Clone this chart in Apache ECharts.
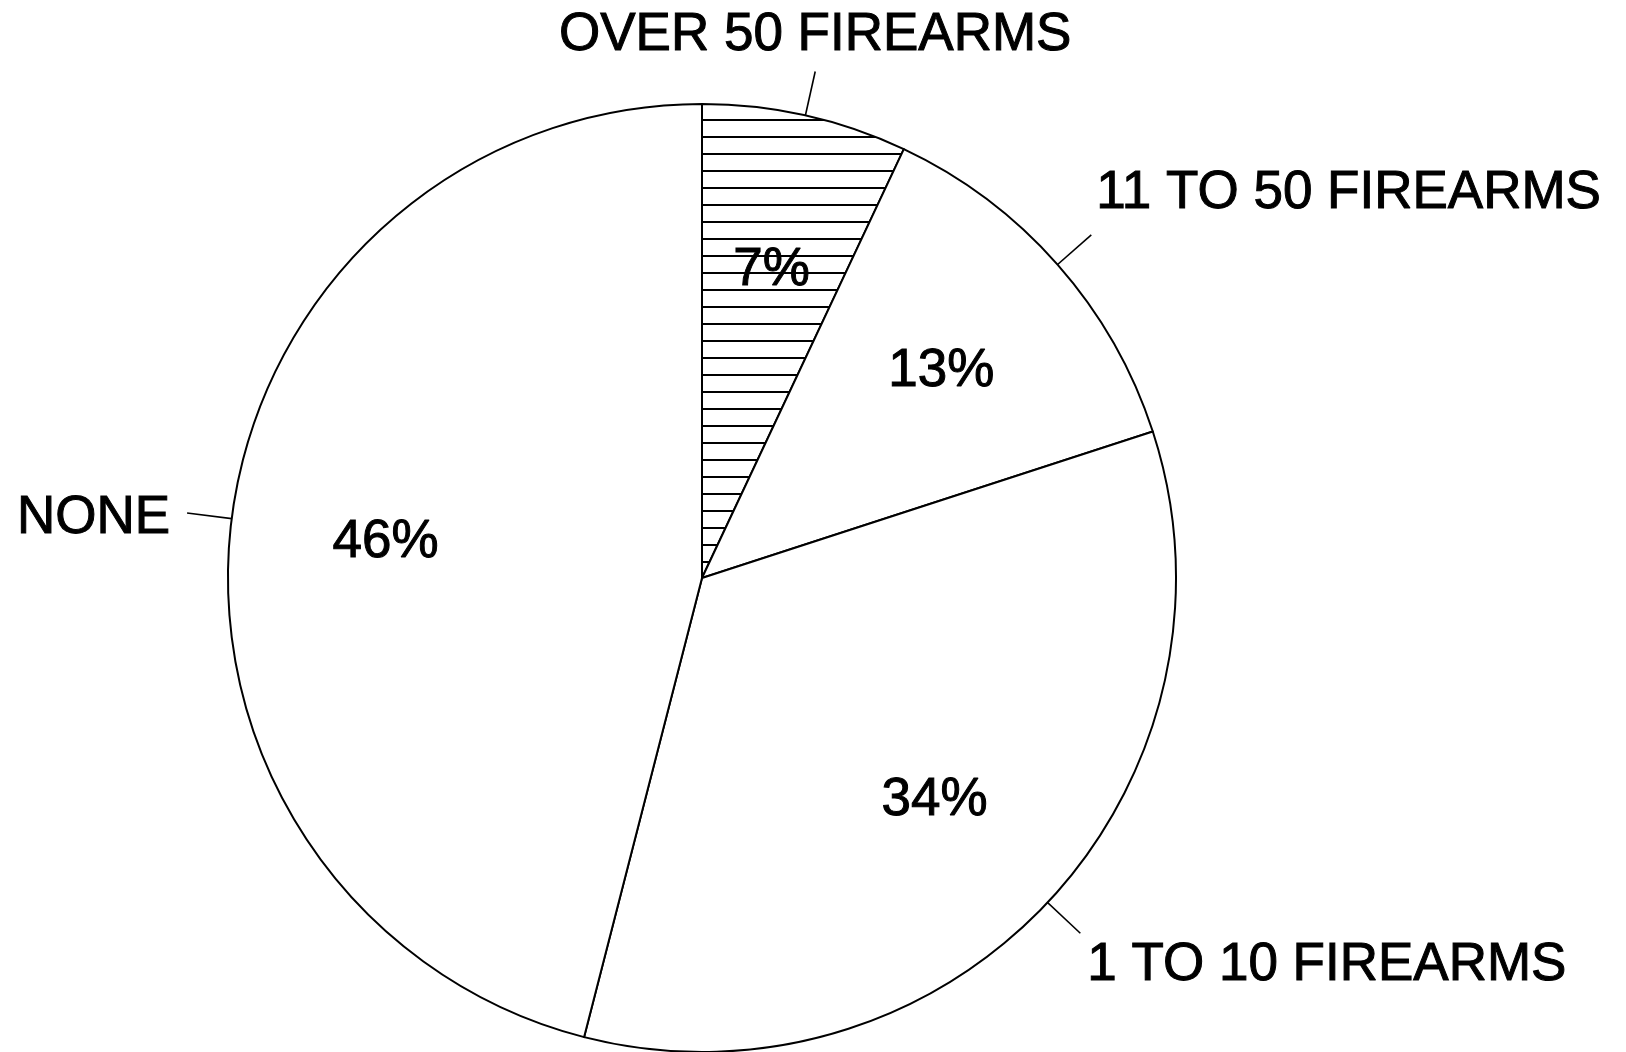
<!DOCTYPE html>
<html><head><meta charset="utf-8">
<script src="https://cdn.jsdelivr.net/npm/echarts@6/dist/echarts.min.js"></script>
<style>html,body{margin:0;padding:0;background:#fff}#c{width:1626px;height:1052px}</style>
</head><body><div id="c"></div>
<script>
const categories = ['OVER 50 FIREARMS', '11 TO 50 FIREARMS', '1 TO 10 FIREARMS', 'NONE'];
const shares = [7, 13, 34, 46];
const percentLabels = ['7%', '13%', '34%', '46%'];

const hatch = document.createElement('canvas');
hatch.width = 8; hatch.height = 17;
const hc = hatch.getContext('2d');
hc.fillStyle = '#fff'; hc.fillRect(0, 0, 8, 17);
hc.fillStyle = '#000'; hc.fillRect(0, 0, 8, 2);

const FONT = '"Liberation Sans", Arial, Helvetica, sans-serif';
const C = [702, 578], R = 474;

const placements = [
  {dx: 0, dy: -10, align: 'center', va: 'bottom'},
  {dx: 5, dy: -15, align: 'left', va: 'bottom'},
  {dx: 7, dy: 6, align: 'left', va: 'top'},
  {dx: -17, dy: 5, align: 'right', va: 'middle'}
];

const fills = [{image: hatch, repeat: 'repeat'}, '#fff', '#fff', '#fff'];

const chart = echarts.init(document.getElementById('c'), null, {renderer: 'canvas'});
chart.setOption({
  backgroundColor: '#fff',
  animation: false,
  series: [
    {
      type: 'pie',
      center: C,
      radius: [0, R],
      startAngle: 90,
      clockwise: true,
      silent: true,
      avoidLabelOverlap: false,
      itemStyle: {borderColor: '#000', borderWidth: 2},
      emphasis: {disabled: true},
      label: {
        show: true, position: 'outside', color: '#000',
        fontFamily: FONT, fontSize: 53, fontWeight: 'normal',
        textBorderColor: '#000', textBorderWidth: 1
      },
      labelLine: {show: true, length: 45, length2: 0, smooth: false, lineStyle: {color: '#000', width: 1.6}},
      labelLayout: function (p) {
        const pts = p.labelLinePoints;
        const pl = placements[p.dataIndex];
        if (!pts) return {};
        const end = pts[pts.length - 1];
        const start = pts[0];
        const vx = start[0] - C[0], vy = start[1] - C[1];
        const L = Math.hypot(vx, vy) || 1;
        const s2 = [start[0] - vx / L * 6, start[1] - vy / L * 6];
        return {
          x: end[0] + pl.dx, y: end[1] + pl.dy,
          align: pl.align, verticalAlign: pl.va,
          labelLinePoints: [s2, pts[1], end]
        };
      },
      data: categories.map((n, i) => ({name: n, value: shares[i], itemStyle: {color: fills[i]}}))
    },
    {
      type: 'pie',
      center: C,
      radius: [R / 3, R],
      startAngle: 90,
      clockwise: true,
      silent: true,
      avoidLabelOverlap: false,
      itemStyle: {color: 'rgba(0,0,0,0)', borderWidth: 0},
      emphasis: {disabled: true},
      label: {
        show: true, position: 'inside', color: '#000',
        fontFamily: FONT, fontSize: 53, offset: [0, 4],
        textBorderColor: '#000', textBorderWidth: 1,
        formatter: p => percentLabels[p.dataIndex]
      },
      labelLine: {show: false},
      data: categories.map((n, i) => ({name: n, value: shares[i]}))
    }
  ]
});
</script>
</body></html>
